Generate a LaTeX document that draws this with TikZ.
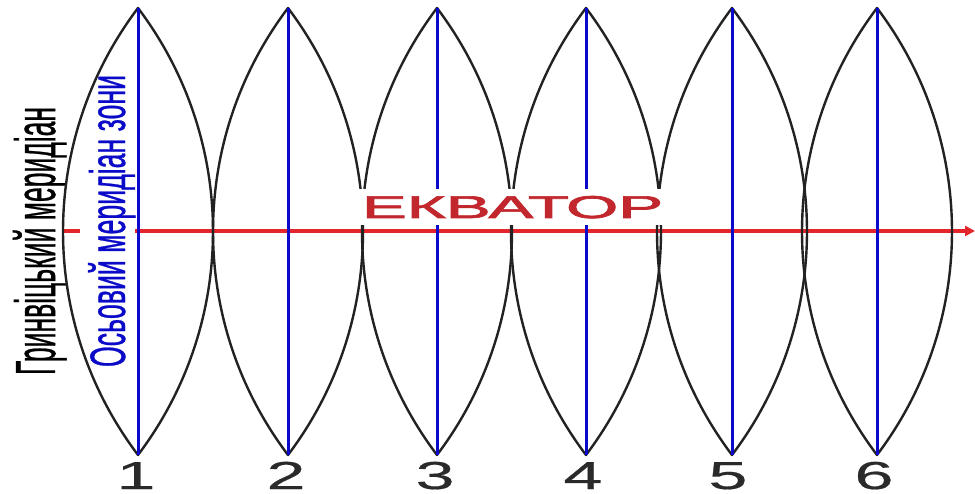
\documentclass[tikz,border=0pt]{standalone}
\usepackage{fontspec}
\setmainfont{Liberation Sans}
\newfontfamily\heavysans[FakeBold=2]{Liberation Sans}
\newfontfamily\midsans[FakeBold=0.9]{Liberation Sans}
\newfontfamily\digitsans[FakeBold=0.4]{Liberation Sans}
\usetikzlibrary{arrows.meta}
\definecolor{lensblack}{HTML}{222222}
\definecolor{axisblue}{HTML}{0A0AC8}
\definecolor{eqred}{HTML}{E3262B}
\definecolor{eqtext}{HTML}{C1272D}
\definecolor{numgray}{HTML}{2A2A2A}
\begin{document}
\begin{tikzpicture}[x=1pt,y=1pt,
  lens/.style={draw=lensblack, line width=2.4pt, line join=round},
  axis/.style={draw=axisblue, line width=3pt},
  equator/.style={draw=eqred, line width=3.2pt, -{Triangle[length=10pt,width=10pt]}},
  vlabel/.style={rotate=90, anchor=base, inner sep=0pt, font=\midsans},
  numlabel/.style={anchor=base, inner sep=0pt, text=numgray, font=\digitsans}
]
\useasboundingbox (0,0) rectangle (975,-494);
% equator
\coordinate (eqL) at (63,-231);
\coordinate (eqR) at (975,-231);
\draw[equator] (eqL) -- (eqR);
% meridian labels
\node[vlabel, text=black] (gm) at (55,-241) {\resizebox{268pt}{42pt}{Гринвіцький меридіан}};
\node[vlabel, fill=white, text=axisblue] (om) at (125,-221) {\rule{0pt}{45pt}\resizebox{292pt}{37pt}{Осьовий меридіан зони}};
% zones
\foreach \c [count=\i] in {138,288,437,586,732,877} {
  \coordinate (t\i) at (\c,-8);
  \coordinate (b\i) at (\c,-455);
  \draw[lens] (t\i) arc[start angle=37.1, end angle=-37.1, radius=370.5]
                    arc[start angle=217.1, end angle=142.9, radius=370.5] -- cycle;
  \draw[axis] (t\i) -- (b\i);
}
% equator label
\node[fill=white, inner xsep=6pt, inner ysep=7pt, text=eqtext, anchor=base, font=\heavysans] (eq) at (512.5,-218) {\resizebox{301pt}{22pt}{ЕКВАТОР}};
% zone numbers
\foreach \x/\d in {136/1, 286/2, 435/3, 583/4, 728/5, 874/6}
  \node[numlabel] (n\d) at (\x,-489) {\scalebox{1.8}[1]{\fontsize{39}{39}\selectfont \d}};
\end{tikzpicture}
\end{document}
